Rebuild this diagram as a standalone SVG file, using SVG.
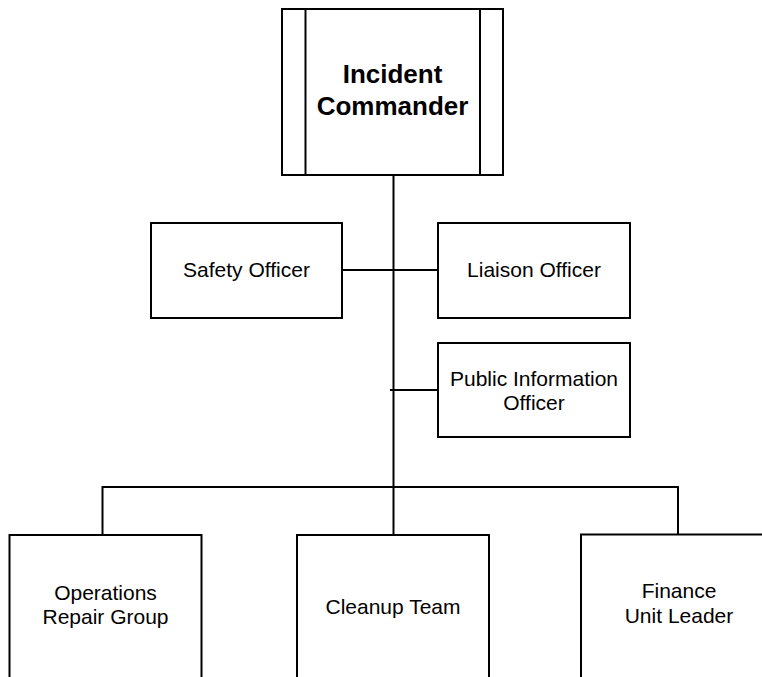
<svg xmlns="http://www.w3.org/2000/svg" width="762" height="677" viewBox="0 0 762 677">
  <style>
    .box { fill: #ffffff; stroke: #000000; stroke-width: 2; }
    .edge { fill: none; stroke: #000000; stroke-width: 2; }
    .lbl { font-family: "Liberation Sans", Arial, sans-serif; font-size: 21px; fill: #000000; text-anchor: middle; }
    .title { font-family: "Liberation Sans", Arial, sans-serif; font-size: 26px; font-weight: bold; fill: #000000; text-anchor: middle; }
  </style>
  <rect width="762" height="677" fill="#ffffff"/>

  <!-- connectors -->
  <g id="connectors">
    <path class="edge" d="M393.5 175 V535"/>
    <path class="edge" d="M342 270 H438"/>
    <path class="edge" d="M390 390 H438"/>
    <path class="edge" d="M102.5 535 V487 H678 V535"/>
  </g>

  <!-- Incident Commander (process box with side bars) -->
  <g id="incident-commander">
    <rect class="box" x="282" y="9" width="221" height="166"/>
    <line class="edge" x1="305.5" y1="9" x2="305.5" y2="175"/>
    <line class="edge" x1="480" y1="9" x2="480" y2="175"/>
    <text class="title" x="392.5" y="83">Incident</text>
    <text class="title" x="392.5" y="115">Commander</text>
  </g>

  <g id="safety-officer">
    <rect class="box" x="151" y="223" width="191" height="95"/>
    <text class="lbl" x="246.5" y="277">Safety Officer</text>
  </g>

  <g id="liaison-officer">
    <rect class="box" x="438" y="223" width="192" height="95"/>
    <text class="lbl" x="534" y="277">Liaison Officer</text>
  </g>

  <g id="public-information-officer">
    <rect class="box" x="438" y="343" width="192" height="94"/>
    <text class="lbl" x="534" y="386">Public Information</text>
    <text class="lbl" x="534" y="410">Officer</text>
  </g>

  <g id="operations-repair-group">
    <rect class="box" x="9.5" y="535" width="192" height="160"/>
    <text class="lbl" x="105.5" y="600">Operations</text>
    <text class="lbl" x="105.5" y="624">Repair Group</text>
  </g>

  <g id="cleanup-team">
    <rect class="box" x="297" y="535" width="192" height="160"/>
    <text class="lbl" x="393" y="614">Cleanup Team</text>
  </g>

  <g id="finance-unit-leader">
    <rect class="box" x="581" y="534.5" width="195" height="160"/>
    <text class="lbl" x="679" y="598">Finance</text>
    <text class="lbl" x="679" y="623">Unit Leader</text>
  </g>
</svg>
